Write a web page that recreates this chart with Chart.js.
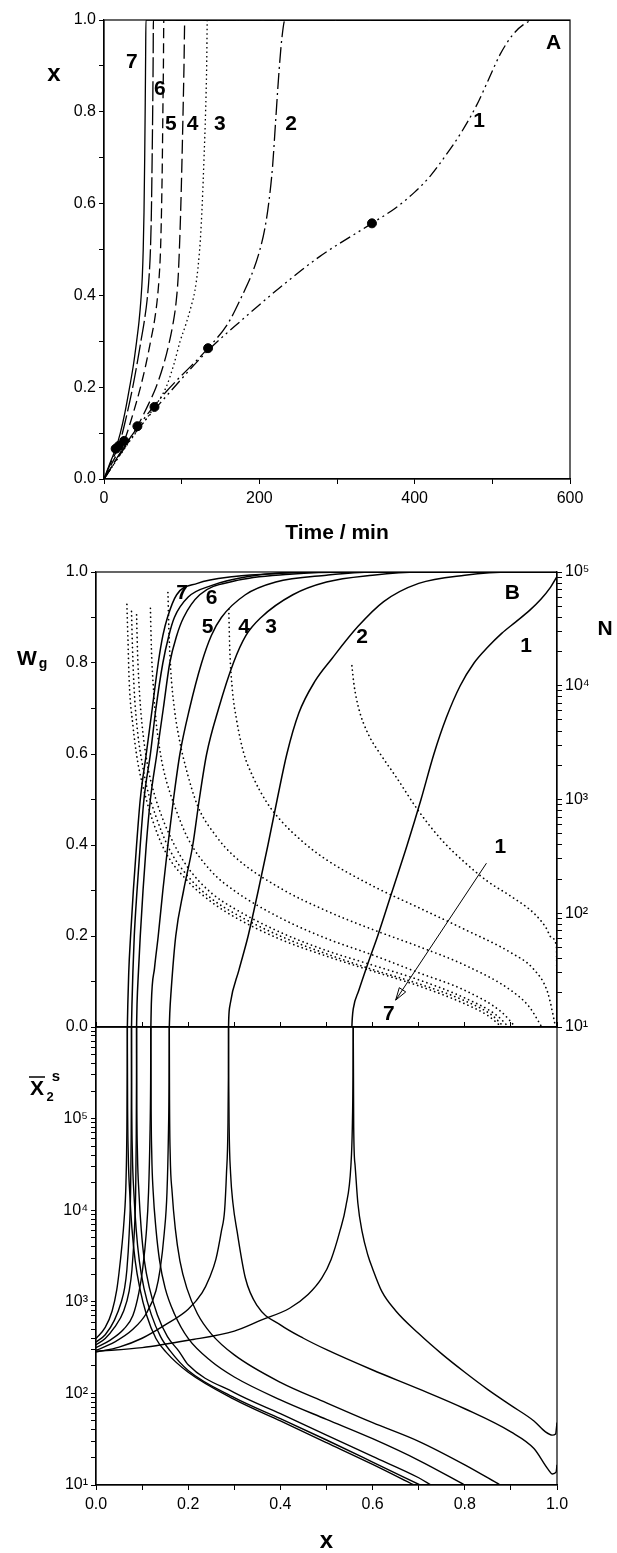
<!DOCTYPE html>
<html>
<head>
<meta charset="utf-8">
<script src="https://cdn.jsdelivr.net/npm/chart.js@4.4.0/dist/chart.umd.min.js"></script>
<style>
  body { margin: 0; background: #fff; }
  #wrap { position: relative; width: 617px; height: 1553px; }
  #wrap canvas { position: absolute; left: 0; }
</style>
</head>
<body>
<div id="wrap">
  <canvas id="chartA" width="617" height="560" style="top:0px"></canvas>
  <canvas id="chartB" width="617" height="485" style="top:560px"></canvas>
  <canvas id="chartC" width="617" height="533" style="top:1020px"></canvas>
</div>
<script>
// tick labels
const timeTickLabels = ['0', '', '200', '', '400', '', '600'];
const fracTickLabels = ['0.0', '', '0.2', '', '0.4', '', '0.6', '', '0.8', '', '1.0'];
const powerTickLabels = ['10\u2070', '10\u00b9', '10\u00b2', '10\u00b3', '10\u2074', '10\u2075'];

// A: conversion x vs time (min), runs 1..7
const convRun1 = [[0,0],[40,0.1],[80,0.18],[134,0.28],[180,0.35],[225,0.415],[278,0.485],[345,0.557],[375,0.59],[400,0.625],[420,0.66],[440,0.705],[460,0.755],[480,0.815],[495,0.87],[510,0.925],[525,0.965],[540,0.99],[555,1.0],[600,1.0]];
const convRun2 = [[0,0],[40,0.105],[80,0.19],[134,0.285],[160,0.34],[178,0.4],[190,0.445],[200,0.495],[207,0.545],[212,0.6],[217,0.68],[221,0.78],[225,0.88],[229,0.96],[233,1.0],[600,1.0]];
const convRun3 = [[0,0],[30,0.075],[65,0.157],[80,0.2],[90,0.25],[98,0.3],[106,0.34],[112,0.375],[117,0.41],[121,0.46],[124,0.52],[126.5,0.6],[128.8,0.7],[130.8,0.8],[132.2,0.9],[133,1.0],[600,1.0]];
const convRun4 = [[0,0],[20,0.055],[43,0.115],[55,0.155],[67,0.2],[76,0.245],[83,0.29],[88.5,0.335],[92.5,0.38],[95.5,0.44],[97.5,0.52],[99,0.6],[100.5,0.7],[101.8,0.8],[103,0.9],[104,1.0],[600,1.0]];
const convRun5 = [[0,0],[12,0.04],[26,0.083],[37,0.14],[47,0.2],[54,0.25],[60,0.3],[65,0.345],[68.5,0.39],[71,0.44],[72.8,0.5],[74,0.58],[75,0.68],[75.8,0.8],[76.5,0.9],[77,1.0],[600,1.0]];
const convRun6 = [[0,0],[10,0.04],[19,0.072],[28,0.13],[37,0.2],[42.5,0.25],[47.5,0.3],[52,0.345],[55.5,0.39],[58,0.44],[59.8,0.5],[61,0.58],[62,0.7],[62.8,0.82],[63.3,0.92],[63.6,1.0],[600,1.0]];
const convRun7 = [[0,0],[8,0.036],[15,0.066],[21,0.1],[27,0.145],[33,0.2],[38,0.25],[42,0.3],[45.2,0.345],[47.5,0.39],[49.3,0.44],[50.5,0.5],[51.5,0.58],[52.4,0.7],[53.1,0.82],[53.6,0.92],[54,1.0],[600,1.0]];
const gelMarks = [[345,0.557],[134,0.285],[65,0.157],[43,0.115],[26,0.083],[19,0.072],[15,0.066]];

// B upper: gel fraction Wg vs x, runs 1..7
const gelFrac1 = [[0.555,0],[0.556,0.02],[0.558,0.04],[0.57,0.08],[0.59,0.14],[0.611,0.2],[0.643,0.3],[0.675,0.4],[0.705,0.5],[0.733,0.6],[0.76,0.68],[0.79,0.75],[0.82,0.8],[0.85,0.835],[0.88,0.865],[0.91,0.89],[0.94,0.915],[0.965,0.94],[0.985,0.965],[1.0,0.99]];
const gelFrac2 = [[0.2875,0],[0.288,0.02],[0.291,0.05],[0.31,0.125],[0.33,0.2],[0.352,0.3],[0.373,0.4],[0.393,0.5],[0.414,0.6],[0.44,0.69],[0.475,0.76],[0.512,0.81],[0.568,0.88],[0.624,0.935],[0.7,0.975],[0.8,0.993],[0.9,1.0],[1.0,1.0]];
const gelFrac3 = [[0.159,0],[0.16,0.03],[0.163,0.08],[0.173,0.2],[0.19,0.3],[0.21,0.4],[0.224,0.5],[0.24,0.6],[0.266,0.7],[0.298,0.8],[0.325,0.86],[0.358,0.9],[0.427,0.95],[0.5,0.978],[0.6,0.993],[0.7,1.0],[1.0,1.0]];
const gelFrac4 = [[0.119,0],[0.12,0.05],[0.127,0.13],[0.135,0.2],[0.145,0.3],[0.156,0.4],[0.168,0.5],[0.182,0.6],[0.203,0.7],[0.229,0.8],[0.25,0.86],[0.272,0.9],[0.324,0.95],[0.39,0.978],[0.5,0.993],[0.6,1.0],[1.0,1.0]];
const gelFrac5 = [[0.088,0],[0.089,0.05],[0.092,0.12],[0.096,0.2],[0.102,0.3],[0.109,0.4],[0.118,0.5],[0.132,0.6],[0.146,0.7],[0.16,0.8],[0.175,0.86],[0.19,0.9],[0.225,0.95],[0.3,0.98],[0.42,0.995],[0.55,1.0],[1.0,1.0]];
const gelFrac6 = [[0.077,0],[0.078,0.05],[0.08,0.12],[0.083,0.2],[0.089,0.3],[0.096,0.4],[0.104,0.5],[0.118,0.6],[0.13,0.7],[0.145,0.8],[0.158,0.86],[0.17,0.9],[0.2,0.945],[0.25,0.97],[0.33,0.99],[0.45,1.0],[1.0,1.0]];
const gelFrac7 = [[0.068,0],[0.069,0.05],[0.071,0.12],[0.075,0.2],[0.081,0.3],[0.088,0.4],[0.096,0.5],[0.109,0.6],[0.122,0.7],[0.135,0.8],[0.145,0.86],[0.155,0.9],[0.175,0.95],[0.22,0.975],[0.3,0.99],[0.4,0.997],[0.5,1.0],[1.0,1.0]];

// B upper: N (right log axis) vs x, runs 1..7
const chainN1 = [[0.555,15000],[0.56,10000],[0.57,6300],[0.59,3800],[0.62,2400],[0.65,1600],[0.7,790],[0.75,440],[0.8,280],[0.85,190],[0.9,141],[0.95,100],[0.975,76],[0.99,60],[0.999,50],[1.0,10]];
const chainN2 = [[0.288,47000],[0.29,22000],[0.295,10000],[0.305,5000],[0.32,2600],[0.34,1600],[0.37,950],[0.4,660],[0.45,420],[0.5,295],[0.6,174],[0.7,112],[0.8,72],[0.9,45],[0.95,32],[0.98,20],[0.997,10]];
const chainN3 = [[0.156,66000],[0.158,32000],[0.162,14000],[0.17,6300],[0.18,3500],[0.195,1900],[0.22,890],[0.26,480],[0.3,316],[0.4,166],[0.5,105],[0.6,72],[0.7,51],[0.8,35],[0.9,21],[0.94,15],[0.967,10]];
const chainN4 = [[0.118,48000],[0.12,22000],[0.125,8900],[0.13,5000],[0.14,2500],[0.15,1600],[0.17,890],[0.2,450],[0.25,234],[0.3,158],[0.4,91],[0.5,60],[0.6,43],[0.7,30],[0.8,21],[0.88,13.5],[0.91,10]];
const chainN5 = [[0.088,42000],[0.09,20000],[0.095,7900],[0.1,4500],[0.11,2200],[0.12,1400],[0.14,760],[0.17,400],[0.2,250],[0.25,151],[0.3,110],[0.4,68],[0.5,47],[0.6,35],[0.7,26],[0.8,18],[0.87,12.6],[0.895,10]];
const chainN6 = [[0.077,45000],[0.079,22000],[0.083,8900],[0.09,4000],[0.1,2100],[0.11,1300],[0.13,710],[0.16,360],[0.2,210],[0.25,135],[0.3,100],[0.4,63],[0.5,44],[0.6,32],[0.7,24],[0.8,17],[0.86,12.6],[0.885,10]];
const chainN7 = [[0.067,52000],[0.069,28000],[0.072,11000],[0.08,4500],[0.09,2200],[0.1,1400],[0.12,710],[0.15,350],[0.2,190],[0.25,126],[0.3,93],[0.4,59],[0.5,42],[0.6,31],[0.7,23],[0.8,16],[0.85,12.6],[0.88,10]];

// B lower: X2 before (pre) and after (post) the gel point, runs 1..7
const dpPre1 = [[0,288],[0.1,316],[0.2,380],[0.3,479],[0.358,630],[0.42,850],[0.46,1200],[0.49,1820],[0.51,2900],[0.529,5900],[0.542,11000],[0.553,31000],[0.556,80000],[0.5575,300000],[0.558,1000000]];
const dpPost1 = [[0.558,1000000],[0.5585,300000],[0.559,80000],[0.562,31000],[0.568,12000],[0.577,5900],[0.59,3200],[0.6,2300],[0.62,1300],[0.65,800],[0.7,450],[0.75,270],[0.8,170],[0.85,110],[0.9,74],[0.95,50],[0.975,38],[0.99,35],[0.997,36],[1.0,48]];
const dpPre2 = [[0,282],[0.05,320],[0.1,400],[0.15,560],[0.2,830],[0.23,1250],[0.246,1820],[0.26,2900],[0.272,5900],[0.279,10000],[0.283,25000],[0.2862,80000],[0.2872,300000],[0.2875,1000000]];
const dpPost2 = [[0.2875,1000000],[0.2878,300000],[0.2888,80000],[0.292,25000],[0.297,12000],[0.306,5900],[0.324,1820],[0.35,900],[0.4,560],[0.45,400],[0.5,300],[0.6,180],[0.7,112],[0.8,68],[0.9,38],[0.95,25],[0.98,15],[0.99,13.2],[0.998,13.8],[1.0,16.6]];
const dpPre3 = [[0,295],[0.04,363],[0.08,501],[0.11,759],[0.13,1320],[0.139,2240],[0.148,5600],[0.154,15800],[0.157,63000],[0.1585,250000],[0.159,1000000]];
const dpPost3 = [[0.159,1000000],[0.1595,160000],[0.161,40000],[0.165,16000],[0.172,6300],[0.182,2800],[0.197,1410],[0.22,741],[0.25,447],[0.3,263],[0.4,132],[0.5,79],[0.6,48],[0.7,30],[0.8,16.6],[0.877,10]];
const dpPre4 = [[0,316],[0.03,380],[0.06,501],[0.08,708],[0.093,1260],[0.101,2240],[0.109,5600],[0.114,15800],[0.117,63000],[0.1185,250000],[0.119,1000000]];
const dpPost4 = [[0.119,1000000],[0.1195,160000],[0.121,40000],[0.124,16000],[0.13,6300],[0.138,2800],[0.15,1410],[0.17,741],[0.2,398],[0.25,224],[0.3,151],[0.4,85],[0.5,52],[0.6,32],[0.7,18.6],[0.8,10]];
const dpPre5 = [[0,339],[0.02,398],[0.04,525],[0.06,794],[0.072,1320],[0.078,2240],[0.083,5600],[0.086,15800],[0.0873,63000],[0.0878,250000],[0.088,1000000]];
const dpPost5 = [[0.088,1000000],[0.0885,160000],[0.09,40000],[0.093,16000],[0.098,6300],[0.105,2800],[0.116,1410],[0.133,724],[0.155,417],[0.18,288],[0.2,205],[0.3,102],[0.4,60],[0.5,35],[0.6,20.5],[0.7,12],[0.727,10]];
const dpPre6 = [[0,363],[0.02,437],[0.04,631],[0.055,1000],[0.062,1410],[0.067,2240],[0.072,5600],[0.075,15800],[0.0763,63000],[0.0768,250000],[0.077,1000000]];
const dpPost6 = [[0.077,1000000],[0.0775,160000],[0.079,40000],[0.082,16000],[0.087,6300],[0.094,2800],[0.104,1410],[0.12,724],[0.14,417],[0.16,295],[0.2,178],[0.3,90],[0.4,53],[0.5,31],[0.6,17.8],[0.703,10]];
const dpPre7 = [[0,398],[0.02,525],[0.035,794],[0.045,1350],[0.05,2090],[0.056,4000],[0.061,7900],[0.065,20000],[0.067,79000],[0.0677,316000],[0.068,1000000]];
const dpPost7 = [[0.068,1000000],[0.0685,160000],[0.07,40000],[0.073,16000],[0.078,6300],[0.085,2800],[0.095,1410],[0.11,708],[0.13,398],[0.152,282],[0.2,170],[0.3,86],[0.4,50],[0.5,29],[0.6,16.8],[0.69,10]];

// curve numbers written next to the lines: [text, x, y]
const labelsA = [['7',36,0.907],['6',72,0.85],['5',86,0.774],['4',114,0.774],['3',149,0.774],['2',241,0.774],['1',483,0.78],['A',579,0.95]];
const labelsB = [['7',0.187,0.954],['6',0.251,0.943],['5',0.242,0.879],['4',0.321,0.879],['3',0.38,0.879],['2',0.577,0.857],['1',0.933,0.837],['B',0.903,0.954],['1',0.877,0.396],['7',0.635,0.028]];

const FAMILY = "'Liberation Sans', Arial, Helvetica, sans-serif";
Chart.defaults.font.family = FAMILY;
Chart.defaults.font.size = 16;
Chart.defaults.color = '#000';

const DOTS = [0.1, 4.4];

function series(rows, dash, width, yAxisID) {
  return {
    data: rows.map(([x, y]) => ({x, y})),
    borderColor: '#000',
    borderWidth: width,
    borderDash: dash,
    borderCapStyle: dash === DOTS ? 'round' : 'butt',
    pointRadius: 0,
    fill: false,
    cubicInterpolationMode: 'monotone',
    yAxisID: yAxisID || 'y'
  };
}

const tickGrid = {display: true, drawOnChartArea: false, drawTicks: true, tickLength: 5, color: '#000', lineWidth: 1};
const edge = {display: true, color: '#000', width: 1.2};

function fixWidth(w) {
  return s => { s.width = w; s.paddingTop = 0; s.paddingBottom = 0; };
}
function fixHeight(h) {
  return s => { s.height = h; s.paddingLeft = 0; s.paddingRight = 0; };
}
function powerLabel(v) {
  const e = Math.log10(v), r = Math.round(e);
  return Math.abs(e - r) < 1e-6 && powerTickLabels[r] ? powerTickLabels[r] : '';
}
// keep only 1..9 x 10^n ticks on log axes
function decadeSteps(scale) {
  scale.ticks = scale.ticks.filter(t => {
    const m = t.value / Math.pow(10, Math.floor(Math.log10(t.value) + 1e-9));
    return Math.abs(m - Math.round(m)) < 1e-6;
  });
}

function decorations(labels, yAxisID, extra) {
  return {
    id: 'decorations',
    afterDraw(chart) {
      const {ctx, chartArea: a} = chart;
      const xs = chart.scales.x, ys = chart.scales[yAxisID];
      ctx.save();
      ctx.strokeStyle = '#000';
      ctx.lineWidth = 1.2;
      ctx.strokeRect(a.left, a.top, a.right - a.left, a.bottom - a.top);
      ctx.fillStyle = '#000';
      ctx.textAlign = 'center';
      ctx.textBaseline = 'middle';
      ctx.font = 'bold 21px ' + FAMILY;
      labels.forEach(([text, x, y]) => ctx.fillText(text, xs.getPixelForValue(x), ys.getPixelForValue(y)));
      if (extra) extra(chart, ctx);
      ctx.restore();
    }
  };
}

const common = {
  responsive: false,
  animation: false,
  events: [],
  plugins: {legend: {display: false}, tooltip: {enabled: false}}
};

// panel A
new Chart(document.getElementById('chartA'), {
  type: 'line',
  data: {
    datasets: [
      series(convRun1, [12, 4, 2, 4, 2, 4], 1.3),
      series(convRun2, [16, 4, 2, 4], 1.3),
      series(convRun3, [1.5, 3], 1.3),
      series(convRun4, [14, 5], 1.3),
      series(convRun5, [10, 5], 1.3),
      series(convRun6, [20, 4], 1.3),
      series(convRun7, [], 1.3),
      {
        type: 'scatter',
        data: gelMarks.map(([x, y]) => ({x, y})),
        pointRadius: 4.5,
        pointBackgroundColor: '#000',
        pointBorderColor: '#000',
        showLine: false
      }
    ]
  },
  options: {
    ...common,
    layout: {padding: {top: 20, right: 47, bottom: 0, left: 0}},
    scales: {
      x: {
        type: 'linear', min: 0, max: 600, afterFit: fixHeight(81),
        ticks: {stepSize: 100, autoSkip: false, maxRotation: 0, padding: 5, callback: (v, i) => timeTickLabels[i]},
        grid: tickGrid, border: edge,
        title: {display: true, text: 'Time / min', font: {size: 21, weight: 'bold'}, padding: {top: 0, bottom: 14}}
      },
      y: {
        min: 0, max: 1, afterFit: fixWidth(104),
        ticks: {stepSize: 0.1, autoSkip: false, callback: (v, i) => fracTickLabels[i]},
        grid: tickGrid, border: edge
      }
    }
  },
  plugins: [decorations(labelsA, 'y', (chart, ctx) => {
    ctx.font = 'bold 24px ' + FAMILY;
    ctx.fillText('x', 54, 74);
  })]
});

// panel B, upper part: Wg (left) and N (right, log)
new Chart(document.getElementById('chartB'), {
  type: 'line',
  data: {
    datasets: [
      series(gelFrac1, [], 1.5), series(gelFrac2, [], 1.5), series(gelFrac3, [], 1.5),
      series(gelFrac4, [], 1.5), series(gelFrac5, [], 1.5), series(gelFrac6, [], 1.5),
      series(gelFrac7, [], 1.5),
      series(chainN1, DOTS, 1.7, 'yN'), series(chainN2, DOTS, 1.7, 'yN'), series(chainN3, DOTS, 1.7, 'yN'),
      series(chainN4, DOTS, 1.7, 'yN'), series(chainN5, DOTS, 1.7, 'yN'), series(chainN6, DOTS, 1.7, 'yN'),
      series(chainN7, DOTS, 1.7, 'yN')
    ]
  },
  options: {
    ...common,
    layout: {padding: {top: 12, right: 0, bottom: 18, left: 0}},
    scales: {
      x: {type: 'linear', min: 0, max: 1, display: false},
      y: {
        position: 'left', min: 0, max: 1, afterFit: fixWidth(96),
        ticks: {stepSize: 0.1, autoSkip: false, callback: (v, i) => fracTickLabels[i]},
        grid: tickGrid, border: edge
      },
      yN: {
        type: 'logarithmic', position: 'right', min: 10, max: 100000, afterFit: fixWidth(60),
        afterBuildTicks: decadeSteps,
        ticks: {autoSkip: false, callback: powerLabel},
        grid: tickGrid, border: edge
      }
    }
  },
  plugins: [decorations(labelsB, 'y', (chart, ctx) => {
    const xs = chart.scales.x, ys = chart.scales.y;
    // arrow from curve 1 to curve 7
    const x0 = xs.getPixelForValue(0.847), y0 = ys.getPixelForValue(0.36);
    const x1 = xs.getPixelForValue(0.65), y1 = ys.getPixelForValue(0.059);
    ctx.lineWidth = 1;
    ctx.beginPath();
    ctx.moveTo(x0, y0);
    ctx.lineTo(x1, y1);
    ctx.stroke();
    const ang = Math.atan2(y1 - y0, x1 - x0), len = 13, spread = 0.3;
    ctx.beginPath();
    ctx.moveTo(x1 - len * Math.cos(ang - spread), y1 - len * Math.sin(ang - spread));
    ctx.lineTo(x1, y1);
    ctx.lineTo(x1 - len * Math.cos(ang + spread), y1 - len * Math.sin(ang + spread));
    ctx.closePath();
    ctx.stroke();
    // axis names
    ctx.font = 'bold 21px ' + FAMILY;
    ctx.fillText('W', 27, 99);
    ctx.fillText('N', 605, 69);
    ctx.font = 'bold 14px ' + FAMILY;
    ctx.textBaseline = 'alphabetic';
    ctx.fillText('g', 43, 108);
  })]
});

// panel B, lower part: X2 on log axis
const lowerSets = [];
[[dpPre1, dpPost1], [dpPre2, dpPost2], [dpPre3, dpPost3], [dpPre4, dpPost4],
 [dpPre5, dpPost5], [dpPre6, dpPost6], [dpPre7, dpPost7]].forEach(([pre, post]) => {
  lowerSets.push(series(pre, [], 1.4), series(post, [], 1.4));
});

new Chart(document.getElementById('chartC'), {
  type: 'line',
  data: {datasets: lowerSets},
  options: {
    ...common,
    layout: {padding: {top: 0, right: 60, bottom: 0, left: 0}},
    scales: {
      x: {
        type: 'linear', position: 'bottom', min: 0, max: 1, afterFit: fixHeight(68),
        ticks: {stepSize: 0.1, autoSkip: false, maxRotation: 0, padding: 5, callback: (v, i) => fracTickLabels[i]},
        grid: tickGrid, border: edge,
        title: {display: true, text: 'x', font: {size: 24, weight: 'bold', lineHeight: 1}, padding: {top: 0, bottom: 0}}
      },
      x2: {
        type: 'linear', position: 'top', min: 0, max: 1, afterFit: fixHeight(7),
        ticks: {stepSize: 0.1, autoSkip: false, maxRotation: 0, callback: () => ''},
        grid: tickGrid, border: edge
      },
      y: {
        type: 'logarithmic', min: 10, max: 1000000, afterFit: fixWidth(96),
        afterBuildTicks: decadeSteps,
        ticks: {autoSkip: false, callback: powerLabel},
        grid: tickGrid, border: edge
      }
    }
  },
  plugins: [decorations([], 'y', (chart, ctx) => {
    ctx.font = 'bold 21px ' + FAMILY;
    ctx.fillText('X', 37, 69);
    ctx.lineWidth = 1.5;
    ctx.beginPath();
    ctx.moveTo(29, 57);
    ctx.lineTo(45, 57);
    ctx.stroke();
    ctx.font = 'bold 13px ' + FAMILY;
    ctx.fillText('2', 50, 77);
    ctx.font = 'bold 15px ' + FAMILY;
    ctx.fillText('s', 56, 57);
  })]
});
</script>
</body>
</html>
